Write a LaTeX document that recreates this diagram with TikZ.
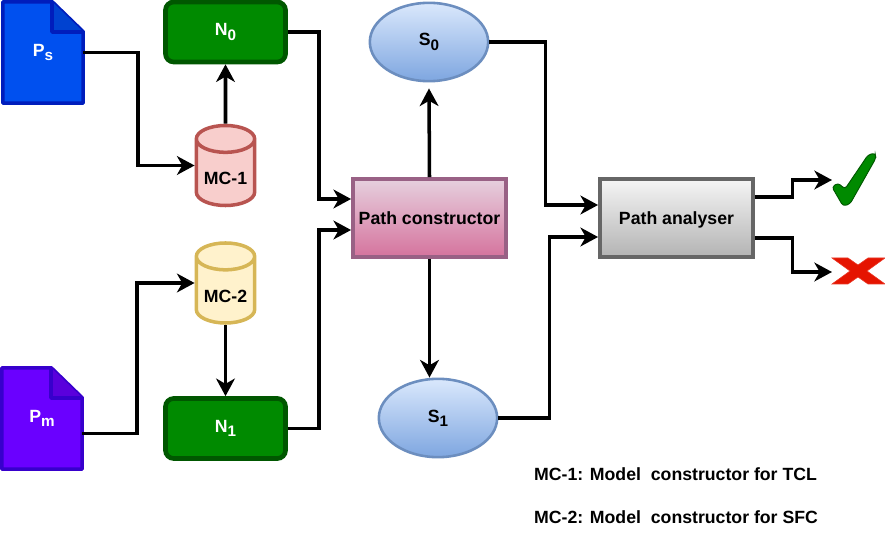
\documentclass[tikz,border=0pt]{standalone}
\usepackage{fontspec}
\setmainfont{Liberation Sans}
\usetikzlibrary{shapes.geometric, arrows.meta, positioning, backgrounds, calc}
\definecolor{blueFill}{HTML}{0050EF}
\definecolor{blueLine}{HTML}{001DBC}
\definecolor{blueFold}{HTML}{0042D0}
\definecolor{violetFill}{HTML}{6A00FF}
\definecolor{violetLine}{HTML}{3700CC}
\definecolor{violetFold}{HTML}{5A00DC}
\definecolor{greenFill}{HTML}{008A00}
\definecolor{greenLine}{HTML}{005700}
\definecolor{redFill}{HTML}{F8CECC}
\definecolor{redLine}{HTML}{B85450}
\definecolor{yellowFill}{HTML}{FFF2CC}
\definecolor{yellowLine}{HTML}{D6B656}
\definecolor{stateLine}{HTML}{6C8EBF}
\definecolor{crossFill}{HTML}{E51400}
\newcommand{\lowtxt}[1]{\raisebox{-0.45ex}{\fontsize{13}{14}\selectfont #1}}
\newcommand{\lowlabel}[1]{\raisebox{-10pt}[0pt][0pt]{#1}}
\tikzset{
  x=0.03cm, y=-0.03cm,
  labelfont/.style={font=\fontsize{15.1}{18}\selectfont\bfseries},
  docbox/.style={labelfont, text=white, minimum width=2.4cm, minimum height=3.03cm},
  netbox/.style={rectangle, rounded corners=7pt, draw=greenLine, fill=greenFill,
                 line width=4pt, labelfont, text=white,
                 minimum width=3.6cm, minimum height=1.8cm},
  store/.style={cylinder, shape border rotate=90, aspect=0.62, line width=3pt,
                cylinder uses custom fill, labelfont,
                minimum width=1.75cm, minimum height=2.4cm, inner sep=0pt},
  state/.style={ellipse, draw=stateLine, line width=2.2pt,
                top color={rgb,255:red,218;green,232;blue,252},
                bottom color={rgb,255:red,126;green,166;blue,224},
                labelfont, minimum width=3.55cm, minimum height=2.35cm},
  pathbox/.style={rectangle, line width=3pt, labelfont, text height=11pt, text depth=0pt,
                  minimum width=4.6cm, minimum height=2.35cm},
  arrow/.style={-{Stealth[length=15pt, width=16pt, inset=4.5pt]}, line width=3pt, black},
  arrowThin/.style={arrow, line width=2.6pt},
  legend/.style={labelfont, anchor=west, inner sep=0pt},
}
\begin{document}
\begin{tikzpicture}
  \useasboundingbox (0,0) rectangle (885,543);

  %% Input pages
  \node[docbox] (Ps) at (43,52.5) {P\lowtxt{s}};
  \node[docbox] (Pm) at (42,418.5) {P\lowtxt{m}};
  \begin{scope}[on background layer]
    \foreach \nm/\fillc/\linec/\foldc in {Ps/blueFill/blueLine/blueFold,
                                         Pm/violetFill/violetLine/violetFold}{
      \draw[fill=\fillc, draw=\linec, line width=3pt, line join=bevel]
        (\nm.south west) -- (\nm.north west) -- ($(\nm.north east)+(-31,0)$)
        -- ($(\nm.north east)+(0,30)$) -- (\nm.south east) -- cycle;
      \draw[fill=\foldc, draw=\linec, line width=3pt, line join=bevel]
        ($(\nm.north east)+(-31,0)$) -- ($(\nm.north east)+(-31,30)$)
        -- ($(\nm.north east)+(0,30)$);
    }
  \end{scope}

  %% Model constructors and networks
  \node[store, draw=redLine, cylinder body fill=redFill, cylinder end fill=redFill,
        anchor=shape center]
    (MCone) at (225.5,165.5) {\lowlabel{MC-1}};
  \node[store, draw=yellowLine, cylinder body fill=yellowFill, cylinder end fill=yellowFill,
        anchor=shape center]
    (MCtwo) at (225.5,283) {\lowlabel{MC-2}};
  \node[netbox] (Nzero) at (225.5,32) {N\lowtxt{0}};
  \node[netbox] (None) at (225.5,428.5) {N\lowtxt{1}};

  %% Path tools
  \node[pathbox, draw={rgb,255:red,153;green,97;blue,133},
        top color={rgb,255:red,230;green,208;blue,222},
        bottom color={rgb,255:red,213;green,115;blue,157}]
    (pathC) at (429.5,218) {Path constructor};
  \node[pathbox, draw={rgb,255:red,102;green,102;blue,102},
        top color={rgb,255:red,245;green,245;blue,245},
        bottom color={rgb,255:red,179;green,179;blue,179}]
    (pathA) at (676.5,218) {Path analyser};
  \node[state] (Szero) at (429,42) {S\lowtxt{0}};
  \node[state] (Sone) at (438,418) {S\lowtxt{1}};

  %% Verdict marks
  \coordinate (okMark) at (832,180);
  \coordinate (noMark) at (832,272);
  \draw[fill=greenFill, draw=greenLine, line width=0.8pt, rounded corners=2.5pt]
    (832,187) -- (838,183) -- (845,189) -- (868,155) -- (875,153) -- (876,158)
    -- (850,204) -- (843,206) -- cycle;
  \draw[fill=crossFill, draw=crossFill!85!white, line width=0.5pt]
    (832,258) -- (848,258) -- (858,265) -- (868,258) -- (885,258) -- (867,271)
    -- (885,284) -- (868,284) -- (858,277) -- (848,284) -- (832,284) -- (850,271) -- cycle;

  %% Connectors
  \draw[arrow] (Ps.east) -- ++(55,0) |- (MCone.west |- MCone.shape center);
  \draw[arrow] (Pm.east) ++(0,15) -- ++(55,0) |- (MCtwo.west |- MCtwo.shape center);
  \draw[arrow] (MCone.north) -- (Nzero.south);
  \draw[arrow] (MCtwo.south) -- (None.north);
  \draw[arrow] (Nzero.east) -- ++(31,0) |- ($(pathC.west)+(0,-19)$);
  \draw[arrow] (None.east) -- ++(31,0) |- ($(pathC.west)+(0,12)$);
  \draw[arrow] (pathC.north) -- ($(Szero.south)+(0,6)$);
  \draw[arrow] (pathC.south) -- (pathC.south |- Sone.north);
  \draw[arrow] (Szero.east) -- ++(56,0) |- ($(pathA.west)+(0,-13)$);
  \draw[arrow] (Sone.east) -- ++(51,0) |- ($(pathA.west)+(0,19)$);
  \draw[arrowThin] ($(pathA.east)+(0,-21)$) -- ++(38,0) |- (okMark);
  \draw[arrowThin] ($(pathA.east)+(0,20)$) -- ++(38,0) |- (noMark);

  %% Legend
  \node[legend] (legendOne) at (534,474) {MC-1: Model\ \ constructor for TCL};
  \node[legend] (legendTwo) at (534,517) {MC-2: Model\ \ constructor for SFC};
\end{tikzpicture}
\end{document}
